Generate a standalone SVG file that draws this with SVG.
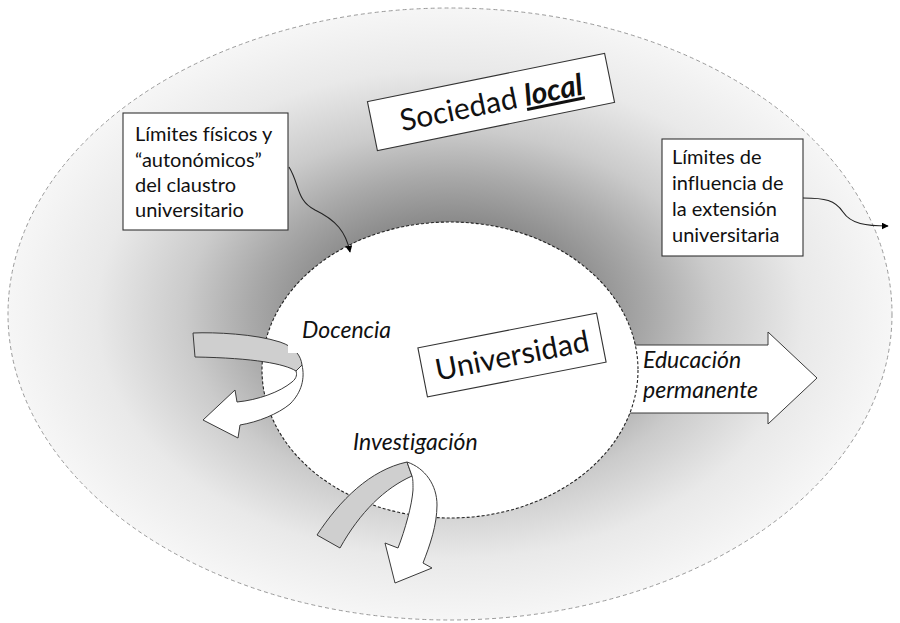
<svg xmlns="http://www.w3.org/2000/svg" width="900" height="623" viewBox="0 0 900 623">
<defs>
  <radialGradient id="soc" cx="0.5" cy="0.5" r="0.5">
    <stop offset="0" stop-color="#606060"/>
    <stop offset="0.3" stop-color="#8a8a8a"/>
    <stop offset="0.45" stop-color="#a9a9a9"/>
    <stop offset="0.6" stop-color="#cbcbcb"/>
    <stop offset="0.8" stop-color="#e9e9e9"/>
    <stop offset="1" stop-color="#f6f6f6"/>
  </radialGradient>
  <marker id="ah" viewBox="0 0 10 10" refX="9" refY="5" markerWidth="7" markerHeight="7" orient="auto" markerUnits="userSpaceOnUse">
    <path d="M0,0 L10,5 L0,10 Z" fill="#000"/>
  </marker>
  <style>
    text { font-variant-ligatures: none; }
    .box { fill:#fff; stroke:#333; stroke-width:1.1; }
    .lbl { font-family:Lato, "Open Sans", sans-serif; font-size:20px; fill:#111; }
    .it { font-family:Lato, "Open Sans", sans-serif; font-style:italic; font-size:23px; fill:#111; }
    .big { font-family:Lato, "Open Sans", sans-serif; font-size:30px; fill:#111; }
    .arw { stroke:#3a3a3a; stroke-width:1; stroke-linejoin:round; }
    .con { fill:none; stroke:#222; stroke-width:1.1; marker-end:url(#ah); }
  </style>
</defs>
<rect width="900" height="623" fill="#fff"/>

<g id="sociedad">
  <ellipse cx="450" cy="314" rx="442" ry="306" fill="url(#soc)" stroke="#9a9a9a" stroke-width="1" stroke-dasharray="4 3"/>
</g>

<g id="educacion">
  <polygon class="arw" fill="#fff" points="615,345 768,345 768,332 817,378 768,424 768,413 615,413"/>
</g>

<g id="universidad">
  <ellipse cx="450" cy="370" rx="188" ry="148" fill="#fff" stroke="#222" stroke-width="1.1" stroke-dasharray="3 2"/>
</g>

<g id="docencia-arrow">
  <path class="arw" fill="#cfcfcf" d="M193,333 C215,332 255,334 280,342 C295,347 301,356 302,365 L296,371 C285,364 255,358 195,357 Z"/>
  <path class="arw" fill="#fff" d="M302,365 C305,378 302,392 290,404 C278,414 258,422 240,425 L238,438 L203,420 L235,390 L237,402 C258,400 280,392 292,382 C297,378 297,374 296,371 Z"/>
  <rect x="288" y="320" width="106" height="33" fill="#fff"/>
  <text class="it" x="302" y="338">Docencia</text>
</g>

<g id="investigacion-arrow">
  <path class="arw" fill="#cfcfcf" d="M317,535 C340,500 370,470 407,462 L412,476 C385,488 360,512 340,548 Z"/>
  <path class="arw" fill="#fff" d="M407,462 C425,468 437,485 437,505 C437,525 430,545 423,563 L432,568 L395,583 L385,543 L398,548 C405,530 412,505 413,490 C413,483 413,479 412,476 Z"/>
  <text class="it" x="353" y="450">Investigación</text>
</g>

<g id="educacion-label">
  <text class="it" x="643" y="368">Educación</text>
  <text class="it" x="643" y="398">permanente</text>
</g>

<g id="limites-fisicos">
  <rect class="box" x="123" y="113" width="165" height="117"/>
  <text class="lbl" x="135" y="141">Límites físicos y</text>
  <text class="lbl" x="135" y="167">“autonómicos”</text>
  <text class="lbl" x="135" y="192">del claustro</text>
  <text class="lbl" x="135" y="217">universitario</text>
</g>

<g id="limites-influencia">
  <rect class="box" x="662" y="139" width="141" height="117"/>
  <text class="lbl" x="672" y="164">Límites de</text>
  <text class="lbl" x="672" y="190">influencia de</text>
  <text class="lbl" x="672" y="216">la extensión</text>
  <text class="lbl" x="672" y="242">universitaria</text>
</g>

<g id="sociedad-label" transform="translate(491 102) rotate(-11.5)">
  <rect class="box" x="-121" y="-25" width="242" height="50"/>
  <text class="big" x="0" y="11" text-anchor="middle">Sociedad <tspan font-weight="bold" font-style="italic" text-decoration="underline">local</tspan></text>
</g>

<g id="universidad-label" transform="translate(512 355) rotate(-11)">
  <rect class="box" x="-91" y="-25" width="182" height="50"/>
  <text class="big" x="0" y="11" text-anchor="middle" font-size="32">Universidad</text>
</g>

<g id="connectors">
  <path class="con" d="M289,167 C300,185 296,200 315,210 C336,220 346,232 350,252"/>
  <path class="con" d="M803,198 C825,198 835,200 843,212 C851,224 866,226 888,226"/>
</g>
</svg>
